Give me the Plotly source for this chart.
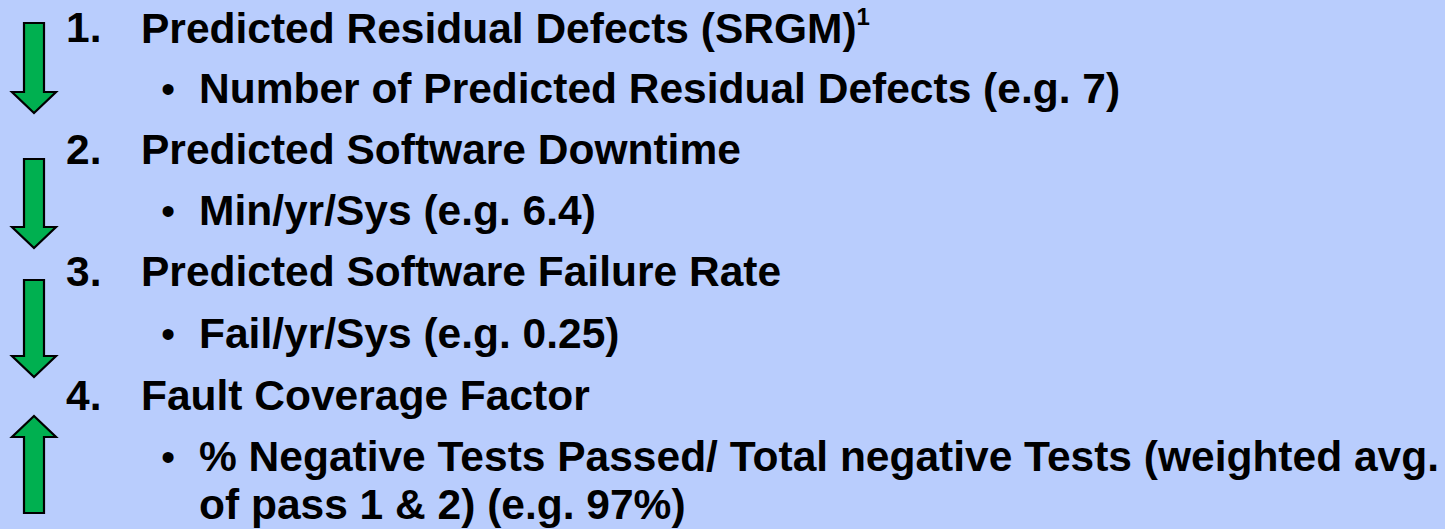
import plotly.graph_objects as go

# ---- content ----
numbers = ["1.", "2.", "3.", "4."]
headings = [
    "Predicted Residual Defects (SRGM)",
    "Predicted Software Downtime",
    "Predicted Software Failure Rate",
    "Fault Coverage Factor",
]
footnote_marks = ["1", "", "", ""]
details = [
    ["Number of Predicted Residual Defects (e.g. 7)"],
    ["Min/yr/Sys (e.g. 6.4)"],
    ["Fail/yr/Sys (e.g. 0.25)"],
    ["% Negative Tests Passed/ Total negative Tests (weighted avg.",
     "of pass 1 & 2) (e.g. 97%)"],
]
directions = ["down", "down", "down", "up"]

# ---- layout (pixel geometry) ----
W, H = 1445, 529
BG = "#B9CDFD"
GREEN = "#00B050"
FONT = "Liberation Sans, Arial, Helvetica, sans-serif"
FS = 42.5
heading_base = [43, 165, 287, 411]
detail_base = [[104], [226], [349], [472, 520]]
arrow_span = [(23, 113), (159, 248), (280, 377), (416, 513)]
X_NUM, X_HEAD, X_BUL, X_DET = 64, 139, 159, 197
SHAFT_L, SHAFT_R, HEAD_L, HEAD_R, TIP_X = 24, 44, 12, 56, 34
HEAD_LEN = 21
OFF = 15.5  # baseline -> visual middle

fig = go.Figure()
annotations = []
shapes = []


def txt(x, base, s, size=FS):
    annotations.append(dict(
        x=x, y=base - OFF, xref="x", yref="y", text=f"<b>{s}</b>",
        showarrow=False, xanchor="left", yanchor="middle",
        font=dict(family=FONT, size=size, color="black"),
    ))


for i in range(4):
    txt(X_NUM, heading_base[i], numbers[i])
    head = headings[i]
    if footnote_marks[i]:
        head += f"<sup><span style='font-size:24px'>{footnote_marks[i]}</span></sup>"
    txt(X_HEAD, heading_base[i], head)
    for j, line in enumerate(details[i]):
        if j == 0:
            annotations.append(dict(
                x=X_BUL, y=detail_base[i][j] - OFF, xref="x", yref="y",
                text="•", showarrow=False, xanchor="left", yanchor="middle",
                font=dict(family=FONT, size=FS - 2, color="black"),
            ))
        txt(X_DET, detail_base[i][j], line)

    top, bot = arrow_span[i]
    if directions[i] == "down":
        hb = bot - HEAD_LEN
        path = (f"M {SHAFT_L} {top} L {SHAFT_R} {top} L {SHAFT_R} {hb} L {HEAD_R} {hb} "
                f"L {TIP_X} {bot} L {HEAD_L} {hb} L {SHAFT_L} {hb} Z")
    else:
        hb = top + HEAD_LEN
        path = (f"M {SHAFT_L} {bot} L {SHAFT_R} {bot} L {SHAFT_R} {hb} L {HEAD_R} {hb} "
                f"L {TIP_X} {top} L {HEAD_L} {hb} L {SHAFT_L} {hb} Z")
    shapes.append(dict(type="path", path=path, xref="x", yref="y",
                       fillcolor=GREEN, line=dict(color="black", width=2.2)))

fig.update_layout(
    width=W, height=H, autosize=False,
    margin=dict(l=0, r=0, t=0, b=0, pad=0),
    paper_bgcolor=BG, plot_bgcolor=BG,
    xaxis=dict(range=[0, W], visible=False, fixedrange=True),
    yaxis=dict(range=[H, 0], visible=False, fixedrange=True),
    annotations=annotations, shapes=shapes, showlegend=False,
)
fig.write_html(
    "out.html",
    config={"displayModeBar": False},
    post_script="document.body.style.margin='0';document.body.style.background='#B9CDFD';document.body.style.overflow='hidden';",
)
